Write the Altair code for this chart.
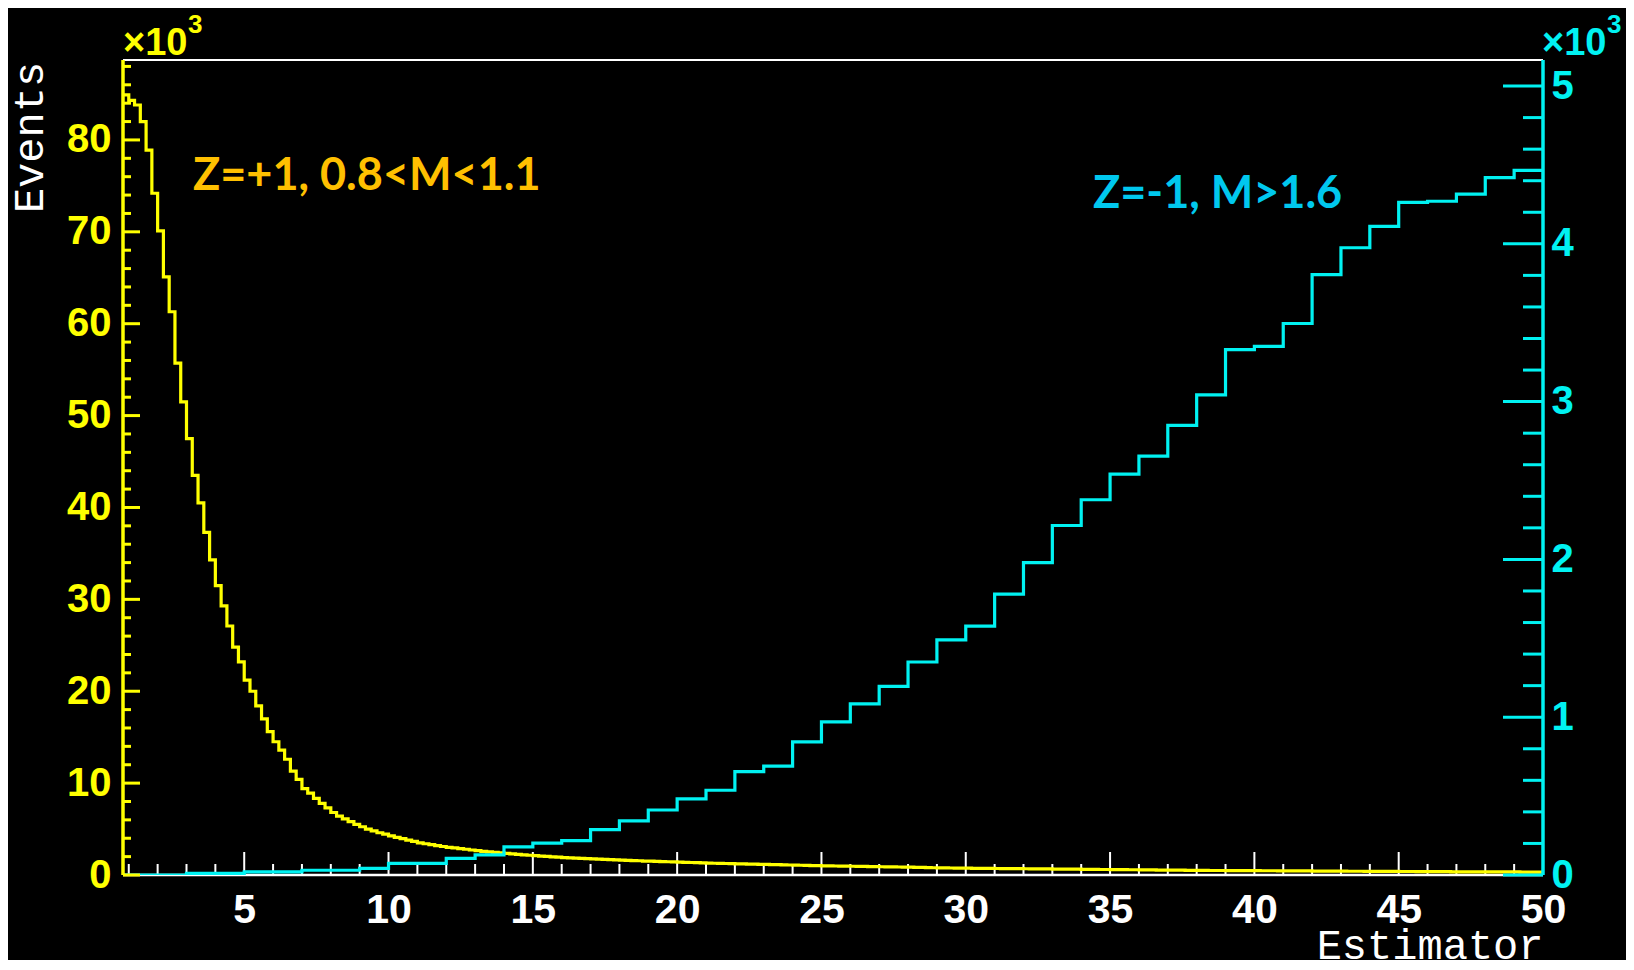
import altair as alt
import pandas as pd
import numpy as np

# ---------------- data (events in thousands) ----------------
# Yellow histogram: Z=+1, 0.8<M<1.1 ; bins of width 0.2 starting at 0.8
yellow_start = 0.8
yellow_width = 0.2
yellow_k = [
    84.9, 84.3, 83.8, 82.0, 78.9, 74.2, 70.1, 65.1, 61.3, 55.7,
    51.5, 47.5, 43.5, 40.5, 37.3, 34.3, 31.5, 29.3, 27.1, 24.8,
    23.2, 21.2, 20.0, 18.4, 17.0, 15.6, 14.5, 13.6, 12.6, 11.3,
    10.4, 9.4, 8.9, 8.35, 7.8, 7.3, 6.8, 6.4, 6.1, 5.8,
    5.5, 5.25, 5.0, 4.8, 4.6, 4.45, 4.25, 4.1, 3.95, 3.8,
    3.65, 3.5, 3.4, 3.3, 3.2, 3.1, 3.0, 2.95, 2.88, 2.8,
    2.72, 2.65, 2.58, 2.52, 2.46, 2.4, 2.35, 2.3, 2.25, 2.2,
    2.15, 2.1, 2.06, 2.02, 1.98, 1.94, 1.9, 1.87, 1.84, 1.81,
    1.78, 1.75, 1.72, 1.7, 1.67, 1.64, 1.62, 1.6, 1.57, 1.55,
    1.52, 1.5, 1.48, 1.46, 1.44, 1.42, 1.4, 1.38, 1.36, 1.34,
    1.32, 1.3, 1.28, 1.27, 1.25, 1.24, 1.22, 1.21, 1.19, 1.18,
    1.16, 1.15, 1.14, 1.12, 1.11, 1.09, 1.08, 1.06, 1.05, 1.03,
    1.02, 1.0, 0.99, 0.98, 0.97, 0.96, 0.95, 0.94, 0.93, 0.92,
    0.91, 0.9, 0.89, 0.88, 0.87, 0.86, 0.85, 0.84, 0.82, 0.81,
    0.79, 0.78, 0.77, 0.76, 0.75, 0.75, 0.74, 0.73, 0.73, 0.72,
    0.72, 0.71, 0.7, 0.7, 0.69, 0.69, 0.68, 0.67, 0.67, 0.66,
    0.66, 0.65, 0.64, 0.64, 0.63, 0.63, 0.62, 0.61, 0.61, 0.6,
    0.6, 0.59, 0.58, 0.58, 0.57, 0.57, 0.56, 0.55, 0.55, 0.54,
    0.54, 0.53, 0.52, 0.52, 0.51, 0.51, 0.5, 0.5, 0.49, 0.49,
    0.49, 0.48, 0.48, 0.48, 0.47, 0.47, 0.47, 0.46, 0.46, 0.46,
    0.45, 0.45, 0.45, 0.44, 0.44, 0.44, 0.43, 0.43, 0.43, 0.42,
    0.42, 0.42, 0.41, 0.41, 0.41, 0.4, 0.4, 0.4, 0.39, 0.39,
    0.39, 0.38, 0.38, 0.38, 0.37, 0.37, 0.37, 0.36, 0.36, 0.36,
    0.35, 0.35, 0.35, 0.35, 0.34, 0.34, 0.34, 0.34, 0.33, 0.33,
    0.33, 0.33, 0.32, 0.32, 0.32, 0.32,
]

# Cyan histogram: Z=-1, M>1.6 ; bins of width 1 starting at 0
cyan_start = 0
cyan_width = 1
cyan_k = [
    0.0, 0.0, 0.0, 0.01, 0.01, 0.02, 0.02, 0.03, 0.03, 0.042,
    0.074, 0.074, 0.105, 0.127, 0.178, 0.202, 0.218, 0.288, 0.343, 0.412,
    0.482, 0.537, 0.655, 0.69, 0.844, 0.97, 1.085, 1.195, 1.35, 1.49,
    1.577, 1.78, 1.98, 2.215, 2.378, 2.54, 2.655, 2.85, 3.043, 3.33,
    3.35, 3.495, 3.805, 3.975, 4.11, 4.263, 4.27, 4.315, 4.42, 4.465,
]

x_tick_labels = [5, 10, 15, 20, 25, 30, 35, 40, 45, 50]
x_minor_ticks = list(range(1, 51))
left_tick_labels = [0, 10, 20, 30, 40, 50, 60, 70, 80]
left_minor_ticks = list(range(0, 89, 2))
right_tick_labels = [0, 1, 2, 3, 4, 5]
right_minor_ticks = [round(0.2 * i, 1) for i in range(0, 26)]

label_yellow = "Z=+1, 0.8<M<1.1"
label_cyan = "Z=-1, M>1.6"

X_DOMAIN = [0.8, 50]
LEFT_DOMAIN = [0, 88.7]
RIGHT_DOMAIN = [0, 5.165]

W, H = 1420, 815
YELLOW = "#FFFF00"
CYAN = "#00F2F2"

# ---------------- tables ----------------
y_edges = [yellow_start + yellow_width * i for i in range(len(yellow_k))] + [50.0]
df_y = pd.DataFrame({"x": y_edges, "v": yellow_k + [yellow_k[-1]]})
c_edges = [cyan_start + cyan_width * i for i in range(len(cyan_k))] + [50.0]
df_c = pd.DataFrame({"x": c_edges, "v": cyan_k + [cyan_k[-1]]})

df_xminor = pd.DataFrame({"x": [t for t in x_minor_ticks if t % 5 != 0]})
df_xmajor = pd.DataFrame({"x": x_tick_labels})
df_lminor = pd.DataFrame({"v": [t for t in left_minor_ticks if t % 10 != 0]})
df_lmajor = pd.DataFrame({"v": left_tick_labels})
df_rminor = pd.DataFrame({"v": [t for t in right_minor_ticks if abs(t - round(t)) > 1e-6]})
df_rmajor = pd.DataFrame({"v": right_tick_labels})
one = pd.DataFrame({"a": [0]})

xs = alt.Scale(domain=X_DOMAIN, nice=False, zero=False)
ls = alt.Scale(domain=LEFT_DOMAIN, nice=False)
rs = alt.Scale(domain=RIGHT_DOMAIN, nice=False)

x_axis = alt.Axis(
    values=x_tick_labels, ticks=False, domain=False, grid=False,
    labelColor="white", labelFont="Liberation Sans", labelFontSize=41,
    labelFontWeight="bold", labelPadding=15, labelFlush=False, labelOverlap=False,
    title="Estimator", titleFont="Liberation Mono", titleFontSize=42,
    titleFontWeight="normal", titleColor="white", titleAlign="right",
    titleX=W, titleY=83, titleBaseline="alphabetic",
)
X = alt.X("x:Q", scale=xs, axis=x_axis)

left_axis = alt.Axis(
    orient="left", values=left_tick_labels, ticks=False, domain=False, grid=False,
    labelColor=YELLOW, labelFont="Liberation Sans", labelFontSize=40,
    labelFontWeight="bold", labelPadding=12, labelOverlap=False, labelFlush=False,
    title="Events", titleFont="Liberation Mono", titleFontSize=42,
    titleFontWeight="normal", titleColor="white", titleAngle=270,
    titleX=-94, titleY=77, titleAlign="center", titleBaseline="middle",
)
right_axis = alt.Axis(
    orient="right", values=right_tick_labels, ticks=False, domain=False, grid=False,
    labelColor=CYAN, labelFont="Liberation Sans", labelFontSize=40,
    labelFontWeight="bold", labelPadding=8, labelOverlap=False, labelFlush=False,
)

# ---------------- layers ----------------
frame_top = alt.Chart(one).mark_rule(color="white", strokeWidth=2).encode(
    x=alt.value(0), x2=alt.value(W), y=alt.value(0))
frame_bottom = alt.Chart(one).mark_rule(color="white", strokeWidth=2.5).encode(
    x=alt.value(0), x2=alt.value(W), y=alt.value(H))

x_minor = alt.Chart(df_xminor).mark_rule(color="white", strokeWidth=2).encode(
    x=X, y=alt.value(H - 11), y2=alt.value(H))
x_major = alt.Chart(df_xmajor).mark_rule(color="white", strokeWidth=2).encode(
    x=X, y=alt.value(H - 23), y2=alt.value(H))

yellow_line = alt.Chart(df_y).mark_line(
    color=YELLOW, strokeWidth=3.2, interpolate="step-after", clip=True
).encode(x=X, y=alt.Y("v:Q", scale=ls, axis=left_axis))

cyan_line = alt.Chart(df_c).mark_line(
    color=CYAN, strokeWidth=3.2, interpolate="step-after", clip=True
).encode(x=X, y=alt.Y("v:Q", scale=rs, axis=right_axis))

left_domain = alt.Chart(one).mark_rule(color=YELLOW, strokeWidth=3.5).encode(
    x=alt.value(0), y=alt.value(0), y2=alt.value(H))
right_domain = alt.Chart(one).mark_rule(color=CYAN, strokeWidth=3.5).encode(
    x=alt.value(W), y=alt.value(0), y2=alt.value(H))

l_minor = alt.Chart(df_lminor).mark_rule(color=YELLOW, strokeWidth=3).encode(
    y=alt.Y("v:Q", scale=ls, axis=None), x=alt.value(0), x2=alt.value(8))
l_major = alt.Chart(df_lmajor).mark_rule(color=YELLOW, strokeWidth=3).encode(
    y=alt.Y("v:Q", scale=ls, axis=None), x=alt.value(0), x2=alt.value(17))
r_minor = alt.Chart(df_rminor).mark_rule(color=CYAN, strokeWidth=3).encode(
    y=alt.Y("v:Q", scale=rs, axis=None), x=alt.value(W - 20), x2=alt.value(W))
r_major = alt.Chart(df_rmajor).mark_rule(color=CYAN, strokeWidth=3).encode(
    y=alt.Y("v:Q", scale=rs, axis=None), x=alt.value(W - 40), x2=alt.value(W))

txt_yellow = alt.Chart(pd.DataFrame({"t": [label_yellow]})).mark_text(
    align="left", baseline="alphabetic", font="Lato", fontWeight="bold",
    fontSize=45, color="#FFC000"
).encode(x=alt.value(70), y=alt.value(130), text="t:N")
txt_cyan = alt.Chart(pd.DataFrame({"t": [label_cyan]})).mark_text(
    align="left", baseline="alphabetic", font="Lato", fontWeight="bold",
    fontSize=45, color="#00C8EE"
).encode(x=alt.value(970), y=alt.value(148), text="t:N")


def power_label(x0, color):
    base = alt.Chart(pd.DataFrame({"t": ["×10"]})).mark_text(
        align="left", baseline="alphabetic", font="Liberation Sans",
        fontWeight="bold", fontSize=38, color=color
    ).encode(x=alt.value(x0), y=alt.value(-5), text="t:N")
    sup = alt.Chart(pd.DataFrame({"t": ["3"]})).mark_text(
        align="left", baseline="alphabetic", font="Liberation Sans",
        fontWeight="bold", fontSize=26, color=color
    ).encode(x=alt.value(x0 + 65), y=alt.value(-27), text="t:N")
    return base, sup


pl_base, pl_sup = power_label(0, YELLOW)
pr_base, pr_sup = power_label(W - 1, CYAN)

chart = alt.layer(
    frame_top, frame_bottom, x_minor, x_major,
    yellow_line, cyan_line,
    left_domain, right_domain, l_minor, l_major, r_minor, r_major,
    txt_yellow, txt_cyan, pl_base, pl_sup, pr_base, pr_sup,
).resolve_scale(
    y="independent"
).properties(
    width=W, height=H,
    padding={"left": 115, "top": 52, "right": 83, "bottom": 85},
    autosize=alt.AutoSizeParams(type="none"),
).configure(
    background="black"
).configure_view(
    stroke=None
)

chart.save("out.html", embed_options={"renderer": "svg", "actions": False})
